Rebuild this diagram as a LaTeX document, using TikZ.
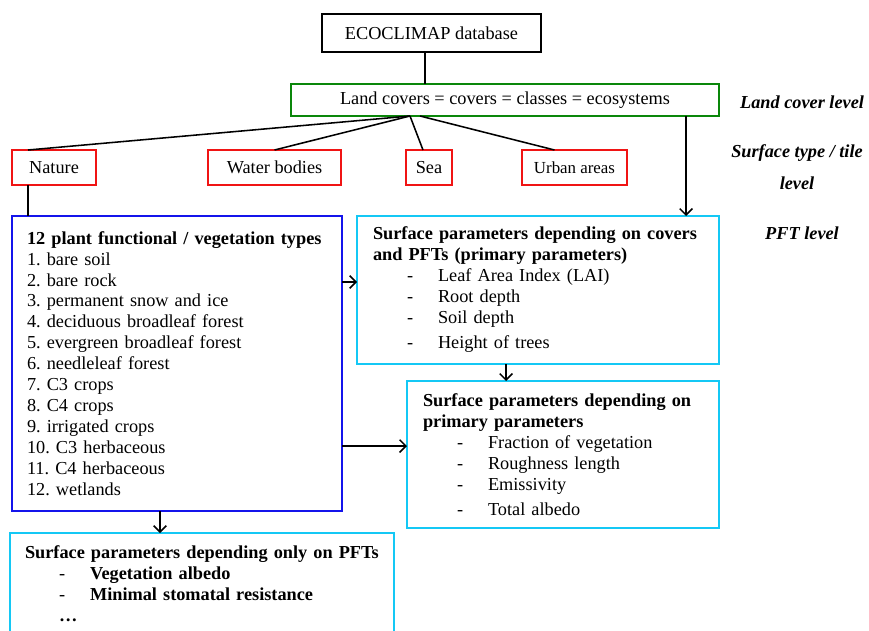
\documentclass[tikz,border=0pt]{standalone}
\usepackage{fontspec}
\setmainfont{Liberation Serif}
\usetikzlibrary{positioning,arrows.meta,calc}
\definecolor{lcgreen}{RGB}{10,135,10}
\definecolor{sfred}{RGB}{240,20,20}
\definecolor{pftblue}{RGB}{20,20,235}
\definecolor{parcyan}{RGB}{20,200,245}
\newcommand{\itm}[1]{\hspace*{0.85cm}\makebox[0.775cm][l]{-}#1}

\begin{document}
\frenchspacing
\begin{tikzpicture}[
x=0.025cm, y=-0.025cm,
font=\fontsize{13}{14.9}\selectfont,
box/.style={draw, line width=1.3pt, inner sep=0pt, outer sep=0pt, align=center},
listbox/.style={box, anchor=north west, align=left},
lvl/.style={font=\fontsize{13}{15}\selectfont\bfseries\itshape, align=center},
con/.style={line width=1.1pt},
arr/.style={con, -{Straight Barb[length=4.5pt,width=9pt]}}
]
\useasboundingbox (0,0) rectangle (869,631);

% top levels
\node[box, minimum width=5.475cm, minimum height=0.95cm] (eco) at (431.5,33) {ECOCLIMAP database};
\node[box, draw=lcgreen, minimum width=10.7cm, minimum height=0.8cm] (lc) at (505,100) {Land covers = covers = classes = ecosystems};

% surface types / tiles
\node[box, draw=sfred, minimum width=2.1cm, minimum height=0.875cm] (nat) at (54,167.5) {Nature};
\node[box, draw=sfred, minimum width=3.325cm, minimum height=0.875cm] (wat) at (274.5,167.5) {Water bodies};
\node[box, draw=sfred, minimum width=1.15cm, minimum height=0.875cm] (sea) at (429,167.5) {Sea};
\node[box, draw=sfred, minimum width=2.625cm, minimum height=0.875cm, font=\fontsize{12}{14}\selectfont] (urb) at (574.5,167.5) {Urban areas};

% PFTs and parameters
\node[listbox, draw=pftblue, minimum width=8.25cm, minimum height=7.375cm, text width=7.5cm, inner xsep=0.375cm] (pft) at (12,216) {%
\textbf{12 plant functional / vegetation types}\\
1. bare soil\\
2. bare rock\\
3. permanent snow and ice\\
4. deciduous broadleaf forest\\
5. evergreen broadleaf forest\\
6. needleleaf forest\\
7. C3 crops\\
8. C4 crops\\
9. irrigated crops\\
10. C3 herbaceous\\
11. C4 herbaceous\\
12. wetlands};

\node[listbox, draw=parcyan, minimum width=9.05cm, minimum height=3.7cm, text width=8.25cm, inner xsep=0.4cm] (prim) at (357,216) {%
\textbf{Surface parameters depending on covers}\\
\textbf{and PFTs (primary parameters)}\\
\itm{Leaf Area Index (LAI)}\\
\itm{Root depth}\\
\itm{Soil depth}\\[3pt]
\itm{Height of trees}};

\node[listbox, draw=parcyan, minimum width=7.8cm, minimum height=3.675cm, text width=7.0cm, inner xsep=0.4cm] (sec) at (407,381) {%
\textbf{Surface parameters depending on}\\
\textbf{primary parameters}\\
\itm{Fraction of vegetation}\\
\itm{Roughness length}\\
\itm{Emissivity}\\[3pt]
\itm{Total albedo}};

\node[listbox, draw=parcyan, minimum width=9.6cm, minimum height=2.55cm, text width=8.85cm, inner xsep=0.375cm] (only) at (10,533) {%
\textbf{Surface parameters depending only on PFTs}\\
\itm{\textbf{Vegetation albedo}}\\
\itm{\textbf{Minimal stomatal resistance}}\\
\hspace*{0.85cm}\textbf{\dots}};

% level labels
\node[lvl] (lvl1) at (802,102) {Land cover level};
\node[lvl] (lvl2) at (797,167) {Surface type / tile\\[8pt]level};
\node[lvl] (lvl3) at (802,233) {PFT level};

% connector end points
\coordinate (fan) at ($(lc.south)+(-95,0)$);
\coordinate (fanu) at ($(lc.south)+(-85,0)$);
\coordinate (lcout) at ($(lc.south east)+(-33,0)$);
\coordinate (natout) at ($(nat.south west)+(16,0)$);
\coordinate (pftout1) at ($(pft.north east)+(0,66)$);
\coordinate (pftout2) at ($(pft.north east)+(0,230)$);
\coordinate (pftout3) at ($(pft.south west)+(148,0)$);
\coordinate (primout) at ($(prim.south west)+(149,0)$);

% connectors
\draw[con] (eco.south -| 425,0) -- (lc.north -| 425,0);
\draw[con] (fan) -- ($(nat.north west)+(16,0)$);
\draw[con] (fan) -- (wat.north);
\draw[con] (fan) -- ($(sea.north)+(-6,0)$);
\draw[con] (fanu) -- ($(urb.north)+(-20,0)$);
\draw[arr] (lcout) -- (lcout |- prim.north);
\draw[con] (natout) -- (natout |- pft.north);
\draw[arr] (pftout1) -- (pftout1 -| prim.west);
\draw[arr] (pftout2) -- (pftout2 -| sec.west);
\draw[arr] (primout) -- (primout |- sec.north);
\draw[arr] (pftout3) -- (pftout3 |- only.north);
\end{tikzpicture}
\end{document}
